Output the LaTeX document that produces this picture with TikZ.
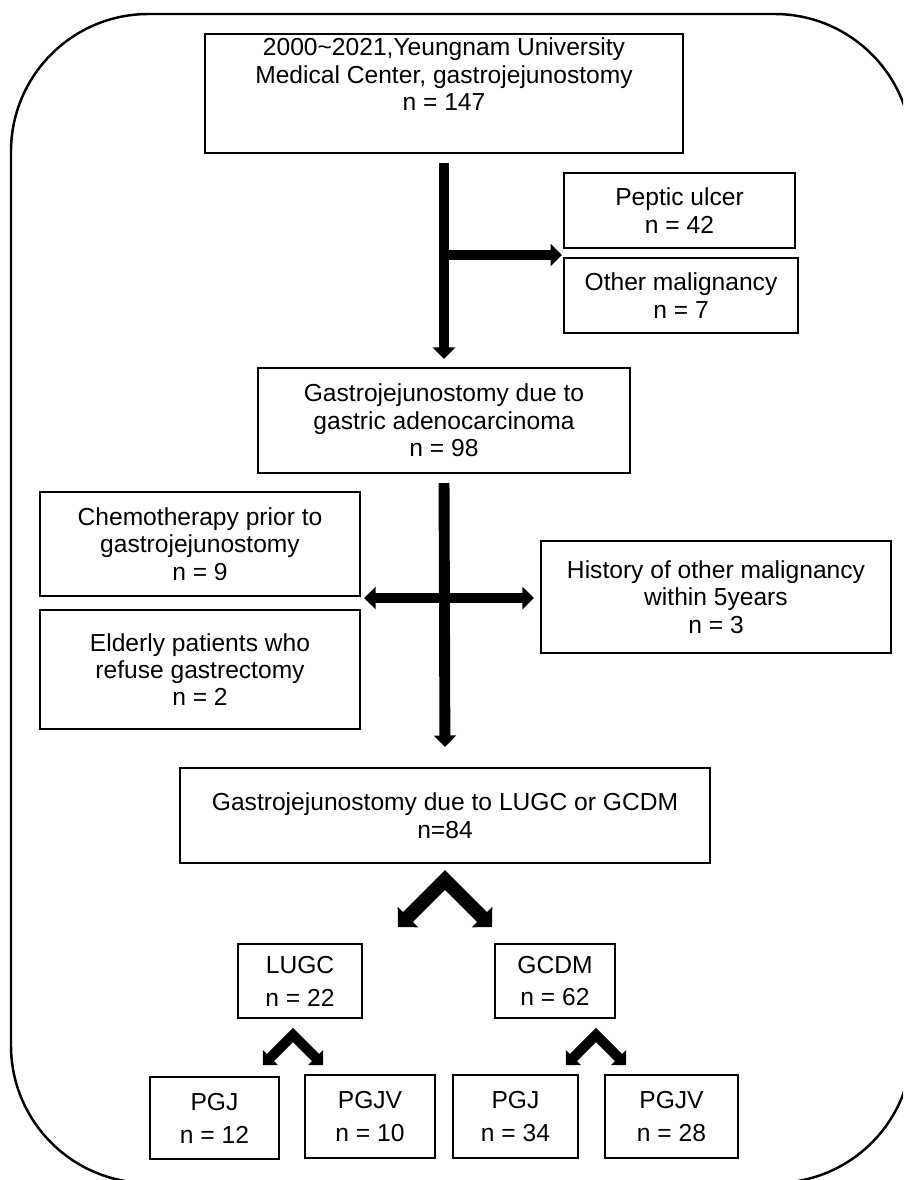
\documentclass[tikz,border=0pt]{standalone}
\usepackage{fontspec}
\setmainfont{Liberation Sans}
\usetikzlibrary{calc}
\usetikzlibrary{arrows.meta}

\begin{document}
\begin{tikzpicture}[x=0.02cm,y=-0.02cm,
  flowbox/.style={draw,line width=1.4pt,align=center,inner sep=0pt,
                  font=\fontsize{14}{15.6}\selectfont},
  smallbox/.style={flowbox,font=\fontsize{14}{18.7}\selectfont},
  fatarrow/.style={line width=6.2pt,-{Triangle[length=6.5pt,width=12.5pt]}},
  fatboth/.style={line width=6.2pt,
                  {Triangle[length=6.5pt,width=12.5pt]}-{Triangle[length=6.5pt,width=12.5pt]}},
  chevron/.style={line width=8pt,line join=miter,
                  {Triangle[length=8pt,width=16pt]}-{Triangle[length=8pt,width=16pt]}},
  minichevron/.style={line width=5.8pt,line join=miter,
                  {Triangle[length=6pt,width=12pt]}-{Triangle[length=6pt,width=12pt]}}]

  \useasboundingbox (0,0) rectangle (903,1180);
  \clip (0,0) rectangle (903,1180);

  % ===== outer frame =====
  \draw[line width=1.4pt,rounded corners=2.75cm] (11,14) rectangle (912,1183);

  % ===== boxes =====
  \node[flowbox,minimum width=9.56cm,minimum height=2.38cm] (src) at (444,93.5)
    {2000\textasciitilde 2021,Yeungnam University\\Medical Center, gastrojejunostomy\\n = 147\rule[-22pt]{0pt}{0pt}};
  \node[flowbox,minimum width=4.62cm,minimum height=1.5cm] (peptic) at (679.5,210.5)
    {Peptic ulcer\\n = 42};
  \node[flowbox,minimum width=4.68cm,minimum height=1.5cm] (other) at (681,295.5)
    {Other malignancy\\n = 7};
  \node[flowbox,minimum width=7.44cm,minimum height=2.1cm] (gastro) at (444,420.5)
    {Gastrojejunostomy due to\\gastric adenocarcinoma\\n = 98};
  \node[flowbox,minimum width=6.4cm,minimum height=2.08cm] (chemo) at (200,544)
    {Chemotherapy prior to\\gastrojejunostomy\\n = 9};
  \node[flowbox,minimum width=6.4cm,minimum height=2.38cm] (elderly) at (200,669.5)
    {Elderly patients who\\refuse gastrectomy\\n = 2};
  \node[flowbox,minimum width=7cm,minimum height=2.24cm] (history) at (716,597)
    {History of other malignancy\\within 5years\\n = 3};
  \node[flowbox,minimum width=10.6cm,minimum height=1.9cm] (cohort) at (445,815.5)
    {Gastrojejunostomy due to LUGC or GCDM\\n=84};
  \node[smallbox,minimum width=2.48cm,minimum height=1.48cm] (lugc) at (300,981)
    {LUGC\\n = 22};
  \node[smallbox,minimum width=2.4cm,minimum height=1.48cm] (gcdm) at (555,981)
    {GCDM\\n = 62};
  \node[smallbox,minimum width=2.58cm,minimum height=1.64cm] (pgjA) at (214.5,1118)
    {PGJ\\n = 12};
  \node[smallbox,minimum width=2.6cm,minimum height=1.66cm] (pgjvA) at (370,1116.5)
    {PGJV\\n = 10};
  \node[smallbox,minimum width=2.5cm,minimum height=1.66cm] (pgjB) at (515.5,1116.5)
    {PGJ\\n = 34};
  \node[smallbox,minimum width=2.66cm,minimum height=1.66cm] (pgjvB) at (671.5,1116.5)
    {PGJV\\n = 28};

  % ===== stems =====
  \draw[fatarrow,shorten <=5pt,shorten >=4.5pt] (src.south) -- (gastro.north);
  \coordinate (fork) at (444,255);
  \draw[fatarrow,shorten >=0.5pt] (fork) -- (fork -| peptic.west);

  \draw[fatarrow,shorten <=5pt,shorten >=11.3pt] (gastro.south) -- (cohort.north);
  \coordinate (cross) at (444,598);
  \draw[fatboth,shorten <=1.7pt,shorten >=3.4pt] (cross -| chemo.east) -- (cross -| history.west);

  % ===== chevrons =====
  \coordinate (peakC) at (445,880);
  \coordinate (leftC) at (398,927); \coordinate (rightC) at (492,927);
  \draw[chevron] (leftC) -- (peakC) -- (rightC);

  \coordinate (peakL) at (293,1035);
  \coordinate (leftL) at (263,1065); \coordinate (rightL) at (323,1065);
  \draw[minichevron] (leftL) -- (peakL) -- (rightL);

  \coordinate (peakG) at (596,1035);
  \coordinate (leftG) at (566,1065); \coordinate (rightG) at (626,1065);
  \draw[minichevron] (leftG) -- (peakG) -- (rightG);

\end{tikzpicture}
\end{document}
